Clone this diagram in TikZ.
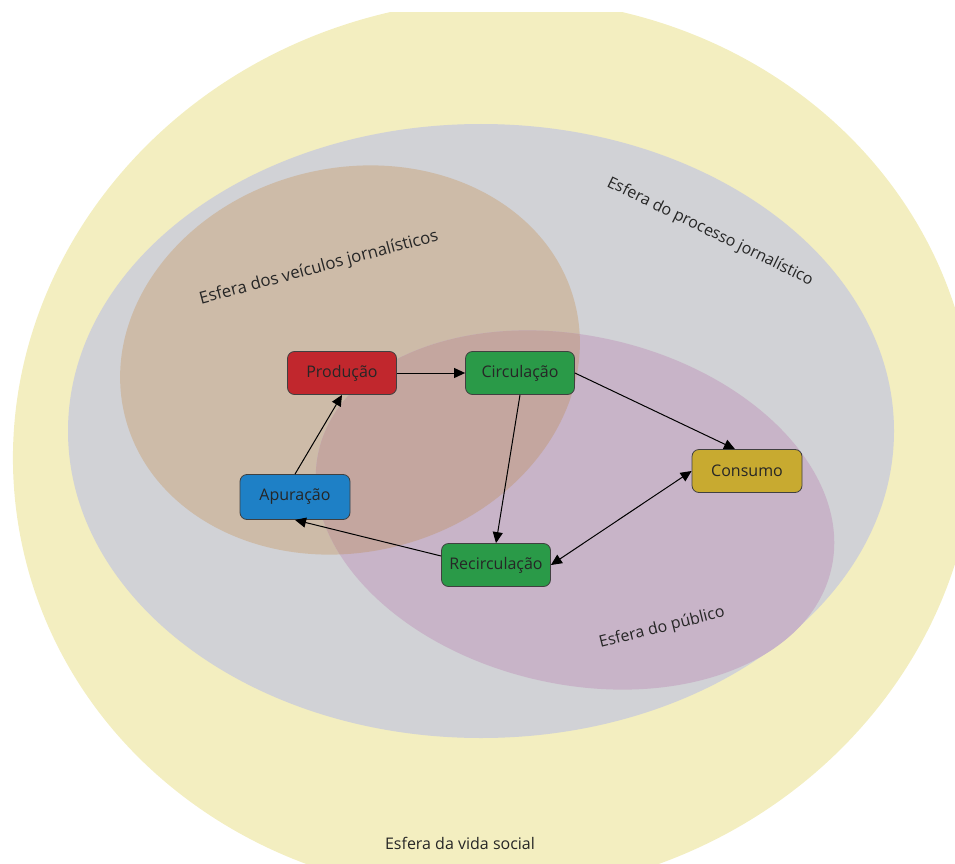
\documentclass[tikz,border=0pt]{standalone}
\usepackage{fontspec}
\setmainfont{Open Sans}
\usetikzlibrary{arrows.meta}
\definecolor{cyellow}{HTML}{F3EEC0}
\definecolor{cgray}{HTML}{D1D2D6}
\definecolor{cbrown}{HTML}{CDBBA8}
\definecolor{cpurple}{HTML}{C8B4C8}
\definecolor{coverlap}{HTML}{C4A69F}
\definecolor{cred}{HTML}{C1272D}
\definecolor{cgreen}{HTML}{2A9A48}
\definecolor{cblue}{HTML}{1E80C6}
\definecolor{cgold}{HTML}{C8AA30}
\tikzset{
  box/.style={draw=black!75, line width=0.8pt, rounded corners=7pt,
    minimum width=109pt, minimum height=43pt, inner sep=0pt,
    font=\fontsize{16}{18}\selectfont, text=black!85},
  conn/.style={draw=black, line width=1pt, -{Triangle[length=11pt,width=10pt]}},
  dconn/.style={draw=black, line width=1pt, {Triangle[length=11pt,width=10pt]}-{Triangle[length=11pt,width=10pt]}},
  lbl/.style={font=\fontsize{16}{18}\selectfont, text=black!85, inner sep=0pt}
}
\begin{document}
\begin{tikzpicture}[x=1pt,y=-1pt]
\useasboundingbox (0,0) rectangle (955,864);
\begin{scope}
  \clip (0,13) rectangle (955,864);
  \fill[cyellow, rotate around={10:(494,447)}] (494,447) ellipse [x radius=482, y radius=447];
\end{scope}
\fill[cgray] (481,431) ellipse [x radius=413, y radius=307];
\fill[cbrown, rotate around={14:(350,360)}] (350,360) ellipse [x radius=232, y radius=192];
\fill[cpurple, rotate around={-13:(575,510)}] (575,510) ellipse [x radius=263, y radius=174];
\begin{scope}
  \clip[rotate around={14:(350,360)}] (350,360) ellipse [x radius=232, y radius=192];
  \fill[coverlap, rotate around={-13:(575,510)}] (575,510) ellipse [x radius=263, y radius=174];
\end{scope}

\node[lbl, rotate=15, font=\fontsize{16.8}{18}\selectfont] (lveic) at (319,268) {Esfera dos veículos jornalísticos};
\node[lbl, rotate=-26] (lproc) at (710,232) {Esfera do processo jornalístico};
\node[lbl, rotate=14] (lpub) at (662,628) {Esfera do público};
\node[lbl] (lsoc) at (460,843) {Esfera da vida social};

\node[box, fill=cred] (prod) at (342,373) {Produção};
\node[box, fill=cgreen] (circ) at (520,373) {Circulação};
\node[box, fill=cblue, minimum width=110pt, minimum height=45pt] (apu) at (295,497) {Apuração};
\node[box, fill=cgreen] (recirc) at (496,565) {Recirculação};
\node[box, fill=cgold, minimum width=110pt] (cons) at (747,471) {Consumo};

\draw[conn] (prod.east) -- (circ.west);
\draw[conn] (apu.north) -- (prod.south);
\draw[conn] (circ.south) -- (recirc.north);
\draw[conn] ([yshift=9pt]recirc.west) -- (apu.south);
\draw[conn] (circ.east) -- ([xshift=-12pt]cons.north);
\draw[dconn] (cons.west) -- (recirc.east);
\end{tikzpicture}
\end{document}
